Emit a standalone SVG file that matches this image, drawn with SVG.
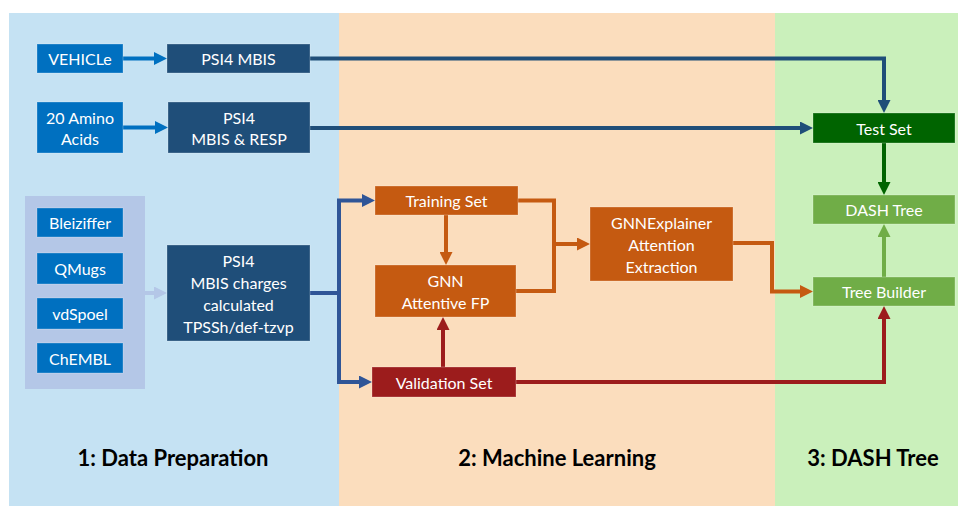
<svg xmlns="http://www.w3.org/2000/svg" width="958" height="506" viewBox="0 0 958 506">
<style>
.t{font-family:Lato,"Liberation Sans",sans-serif;font-size:16px;fill:#ffffff;text-anchor:middle;dominant-baseline:central}
.h{font-family:Lato,"Liberation Sans",sans-serif;font-size:22px;font-weight:bold;fill:#000000;text-anchor:middle;dominant-baseline:central}
.n{stroke:#ffffff;stroke-opacity:0.25;stroke-width:1}
.c{fill:none;stroke-width:4}
</style>
<defs>
<marker id="aB" markerUnits="userSpaceOnUse" markerWidth="13" markerHeight="13" refX="0" refY="6.5" orient="auto"><path d="M0,0 L13,6.5 L0,13 z" fill="#0070C0"/></marker>
<marker id="aN" markerUnits="userSpaceOnUse" markerWidth="13" markerHeight="13" refX="0" refY="6.5" orient="auto"><path d="M0,0 L13,6.5 L0,13 z" fill="#1F4E79"/></marker>
<marker id="aM" markerUnits="userSpaceOnUse" markerWidth="13" markerHeight="13" refX="0" refY="6.5" orient="auto"><path d="M0,0 L13,6.5 L0,13 z" fill="#2F5597"/></marker>
<marker id="aP" markerUnits="userSpaceOnUse" markerWidth="13" markerHeight="13" refX="0" refY="6.5" orient="auto"><path d="M0,0 L13,6.5 L0,13 z" fill="#B4C7E7"/></marker>
<marker id="aO" markerUnits="userSpaceOnUse" markerWidth="13" markerHeight="13" refX="0" refY="6.5" orient="auto"><path d="M0,0 L13,6.5 L0,13 z" fill="#C55A11"/></marker>
<marker id="aR" markerUnits="userSpaceOnUse" markerWidth="13" markerHeight="13" refX="0" refY="6.5" orient="auto"><path d="M0,0 L13,6.5 L0,13 z" fill="#9C1C1C"/></marker>
<marker id="aG" markerUnits="userSpaceOnUse" markerWidth="13" markerHeight="13" refX="0" refY="6.5" orient="auto"><path d="M0,0 L13,6.5 L0,13 z" fill="#006400"/></marker>
<marker id="aL" markerUnits="userSpaceOnUse" markerWidth="13" markerHeight="13" refX="0" refY="6.5" orient="auto"><path d="M0,0 L13,6.5 L0,13 z" fill="#70AD47"/></marker>
</defs>
<rect width="958" height="506" fill="#ffffff"/>
<g id="panels">
<rect x="9" y="13" width="330" height="493" fill="#C5E2F3"/>
<rect x="339" y="13" width="436" height="493" fill="#FBDDBD"/>
<rect x="775" y="13" width="183" height="493" fill="#CAF0BB"/>
<rect x="25" y="196" width="120" height="193" fill="#B4C7E7"/>
</g>
<g id="connectors">
<path class="c" stroke="#0070C0" d="M123,58.5 H154" marker-end="url(#aB)"/>
<path class="c" stroke="#0070C0" d="M123,127.5 H155" marker-end="url(#aB)"/>
<path class="c" stroke="#B4C7E7" stroke-width="5" d="M145,293 H154" marker-end="url(#aP)"/>
<path class="c" stroke="#1F4E79" d="M310,58.5 H884 V100" marker-end="url(#aN)"/>
<path class="c" stroke="#1F4E79" d="M310,128 H800" marker-end="url(#aN)"/>
<path class="c" stroke="#006400" d="M884,143 V182" marker-end="url(#aG)"/>
<path class="c" stroke="#70AD47" d="M884,277 V237" marker-end="url(#aL)"/>
<path class="c" stroke="#2F5597" d="M310,293 H339 V200.5 H362" marker-end="url(#aM)"/>
<path class="c" stroke="#2F5597" d="M339,293 V382 H359" marker-end="url(#aM)"/>
<path class="c" stroke="#C55A11" d="M446,215 V252" marker-end="url(#aO)"/>
<path class="c" stroke="#9C1C1C" d="M443,367 V330" marker-end="url(#aR)"/>
<path class="c" stroke="#C55A11" d="M518,200.5 H554 V244 H577" marker-end="url(#aO)"/>
<path class="c" stroke="#C55A11" d="M516,291 H554 V244"/>
<path class="c" stroke="#C55A11" d="M733,243 H772 V291.5 H800" marker-end="url(#aO)"/>
<path class="c" stroke="#9C1C1C" d="M516,382 H884 V319" marker-end="url(#aR)"/>
</g>
<g id="vehicle"><rect class="n" x="37" y="44" width="86" height="29" fill="#0070C0"/><text class="t" x="80" y="58.5">VEHICLe</text></g>
<g id="psi4mbis"><rect class="n" x="167" y="44" width="143" height="29" fill="#1F4E79"/><text class="t" x="238.5" y="58.5">PSI4 MBIS</text></g>
<g id="amino"><rect class="n" x="37" y="102" width="86" height="51" fill="#0070C0"/><text class="t" x="80" y="117">20 Amino</text><text class="t" x="80" y="138.5">Acids</text></g>
<g id="psi4resp"><rect class="n" x="168" y="102" width="142" height="51" fill="#1F4E79"/><text class="t" x="239" y="117">PSI4</text><text class="t" x="239" y="138.5">MBIS &amp; RESP</text></g>
<g id="bleiziffer"><rect class="n" x="37" y="208" width="86" height="29" fill="#0070C0"/><text class="t" x="80" y="222.5">Bleiziffer</text></g>
<g id="qmugs"><rect class="n" x="37" y="253" width="86" height="31" fill="#0070C0"/><text class="t" x="80" y="268.5">QMugs</text></g>
<g id="vdspoel"><rect class="n" x="37" y="298" width="86" height="31" fill="#0070C0"/><text class="t" x="80" y="313.5">vdSpoel</text></g>
<g id="chembl"><rect class="n" x="37" y="343" width="86" height="30" fill="#0070C0"/><text class="t" x="80" y="358">ChEMBL</text></g>
<g id="psi4charges"><rect class="n" x="167" y="245" width="143" height="96" fill="#1F4E79"/><text class="t" x="238.5" y="260">PSI4</text><text class="t" x="238.5" y="282">MBIS charges</text><text class="t" x="238.5" y="304">calculated</text><text class="t" x="238.5" y="326">TPSSh/def-tzvp</text></g>
<g id="training"><rect class="n" x="375" y="186" width="143" height="29" fill="#C55A11"/><text class="t" x="446.5" y="200.5">Training Set</text></g>
<g id="gnn"><rect class="n" x="375" y="265" width="141" height="52" fill="#C55A11"/><text class="t" x="445.5" y="280">GNN</text><text class="t" x="445.5" y="302">Attentive FP</text></g>
<g id="validation"><rect class="n" x="372" y="367" width="144" height="30" fill="#9C1C1C"/><text class="t" x="444" y="382">Validation Set</text></g>
<g id="gnnexplainer"><rect class="n" x="590" y="207" width="143" height="74" fill="#C55A11"/><text class="t" x="661.5" y="222">GNNExplainer</text><text class="t" x="661.5" y="244">Attention</text><text class="t" x="661.5" y="266">Extraction</text></g>
<g id="testset"><rect class="n" x="813" y="113" width="142" height="30" fill="#006400"/><text class="t" x="884" y="128">Test Set</text></g>
<g id="dashtree"><rect class="n" x="813" y="195" width="142" height="29" fill="#70AD47"/><text class="t" x="884" y="209.5">DASH Tree</text></g>
<g id="treebuilder"><rect class="n" x="813" y="277" width="142" height="29" fill="#70AD47"/><text class="t" x="884" y="291.5">Tree Builder</text></g>
<g id="titles">
<text class="h" x="173" y="457">1: Data Preparation</text>
<text class="h" x="557" y="457">2: Machine Learning</text>
<text class="h" x="873" y="457">3: DASH Tree</text>
</g>
</svg>
